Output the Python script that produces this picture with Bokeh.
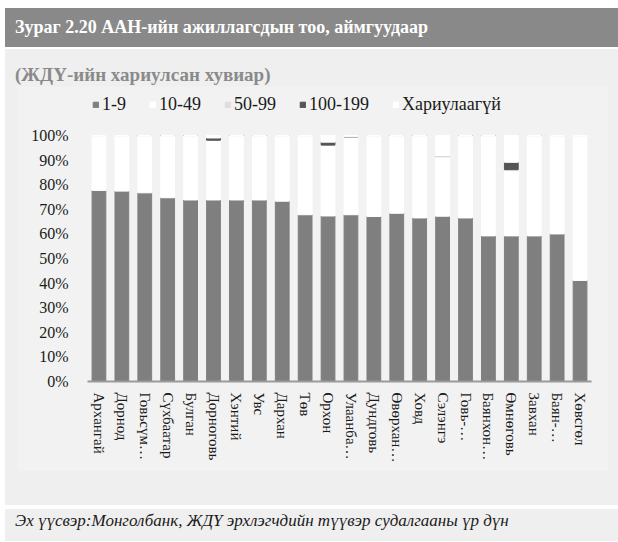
from bokeh.plotting import figure
from bokeh.models import Div, FixedTicker, NumeralTickFormatter, Range1d, ColumnDataSource
from bokeh.layouts import column
from bokeh.embed import file_html
from bokeh.resources import INLINE

# Provinces (axis labels as printed, long names shortened)
provinces = ["Архангай", "Дорнод", "Говьсүм…", "Сүхбаатар", "Булган", "Дорноговь",
             "Хэнтий", "Увс", "Дархан", "Төв", "Орхон", "Улаанба…", "Дундговь",
             "Өвөрхан…", "Ховд", "Сэлэнгэ", "Говь-…", "Баянхон…", "Өмнөговь",
             "Завхан", "Баян-…", "Хөвсгөл"]

# Share of responding SMEs by number of employees
emp_1_9 = [0.777, 0.774, 0.767, 0.747, 0.738, 0.738, 0.738, 0.738, 0.733, 0.678, 0.673,
           0.678, 0.671, 0.684, 0.665, 0.672, 0.665, 0.592, 0.592, 0.592, 0.600, 0.411]
emp_10_49 = [0.223, 0.226, 0.233, 0.253, 0.262, 0.243, 0.262, 0.262, 0.267, 0.322, 0.288,
             0.314, 0.329, 0.316, 0.335, 0.241, 0.335, 0.408, 0.269, 0.408, 0.400, 0.589]
emp_50_99 = [0, 0, 0, 0, 0, 0, 0, 0, 0, 0, 0,
             0.003, 0, 0, 0, 0.003, 0, 0, 0, 0, 0, 0]
emp_100_199 = [0, 0, 0, 0, 0, 0.009, 0, 0, 0, 0, 0.012,
               0, 0, 0, 0, 0, 0, 0, 0.030, 0, 0, 0]
no_answer = [0, 0, 0, 0, 0, 0.010, 0, 0, 0, 0, 0.027,
             0.005, 0, 0, 0, 0.084, 0, 0, 0.109, 0, 0, 0]

series = ["1-9", "10-49", "50-99", "100-199", "Хариулаагүй"]
y_ticks = [0, 0.1, 0.2, 0.3, 0.4, 0.5, 0.6, 0.7, 0.8, 0.9, 1.0]

source = ColumnDataSource(dict(province=provinces, s1=emp_1_9, s2=emp_10_49,
                               s3=emp_50_99, s4=emp_100_199, s5=no_answer))

SERIF = "Liberation Serif"
PANEL = "#efefef"
INNER = "#f2f2f2"

p = figure(x_range=provinces, y_range=Range1d(0, 1.179), width=591, height=385,
           output_backend="svg", toolbar_location=None,
           min_border_left=70, min_border_right=17, min_border_top=5, min_border_bottom=90,
           background_fill_color=INNER, border_fill_color=INNER, margin=(1, 0, 0, 12))
p.outline_line_color = None
p.grid.visible = False

p.vbar_stack(["s1", "s2", "s3", "s4", "s5"], x="province", width=0.6, source=source,
             color=["#7f7f7f", "#ffffff", "#dedede", "#555555", "#ffffff"],
             legend_label=series)

# y axis: percentages, no line or ticks
p.yaxis.ticker = FixedTicker(ticks=y_ticks)
p.yaxis.formatter = NumeralTickFormatter(format="0%")
p.yaxis.axis_line_color = None
p.yaxis.major_tick_line_color = None
p.yaxis.minor_tick_line_color = None
p.yaxis.major_label_standoff = 13
p.yaxis.major_label_text_font = SERIF
p.yaxis.major_label_text_font_size = "16px"
p.yaxis.major_label_text_color = "#1a1a1a"

# x axis: vertical province names
p.xaxis.axis_line_color = "#9a9a9a"
p.xaxis.axis_line_width = 2
p.xaxis.major_tick_line_color = None
p.xaxis.minor_tick_line_color = None
p.xaxis.major_label_orientation = "vertical"
p.xaxis.major_label_standoff = 5
p.xaxis.major_label_text_font = SERIF
p.xaxis.major_label_text_font_size = "15px"
p.xaxis.major_label_text_color = "#1a1a1a"

lg = p.legend[0]
lg.orientation = "horizontal"
lg.location = (5, 266)
lg.background_fill_alpha = 0
lg.border_line_alpha = 0
lg.padding = 0
lg.margin = 0
lg.spacing = 23
lg.glyph_width = 7
lg.glyph_height = 7
lg.label_standoff = 3
lg.label_height = 20
lg.label_text_font = SERIF
lg.label_text_font_size = "18px"
lg.label_text_color = "#1a1a1a"

header = Div(
    text='<div style="padding-left:10px;line-height:39px;">'
         'Зураг 2.20 ААН-ийн ажиллагсдын тоо, аймгуудаар</div>',
    width=613, height=39, margin=(8, 0, 0, 5),
    styles={"background-color": "#898989", "color": "#ffffff", "font-family": SERIF,
            "font-weight": "bold", "font-size": "18px"})

subtitle = Div(
    text='<div style="padding-left:10px;line-height:24px;">(ЖДҮ-ийн хариулсан хувиар)</div>',
    width=500, height=24, margin=(12, 0, 0, 0),
    styles={"color": "#8a8a8a", "font-family": SERIF, "font-weight": "bold",
            "font-size": "19px"})

panel = column(subtitle, p, width=613, height=456, margin=(2, 0, 0, 5),
               styles={"background-color": PANEL})

note = Div(
    text='<div style="padding-left:10px;padding-top:1px;line-height:20px;">'
         'Эх үүсвэр:Монголбанк, ЖДҮ эрхлэгчдийн түүвэр судалгааны үр дүн</div>',
    width=613, height=32, margin=(4, 0, 0, 5),
    styles={"background-color": PANEL, "color": "#1a1a1a", "font-family": SERIF,
            "font-style": "italic", "font-size": "17px"})

layout = column(header, panel, note, width=618, height=542)

open("out.html", "w").write(file_html(layout, INLINE))
